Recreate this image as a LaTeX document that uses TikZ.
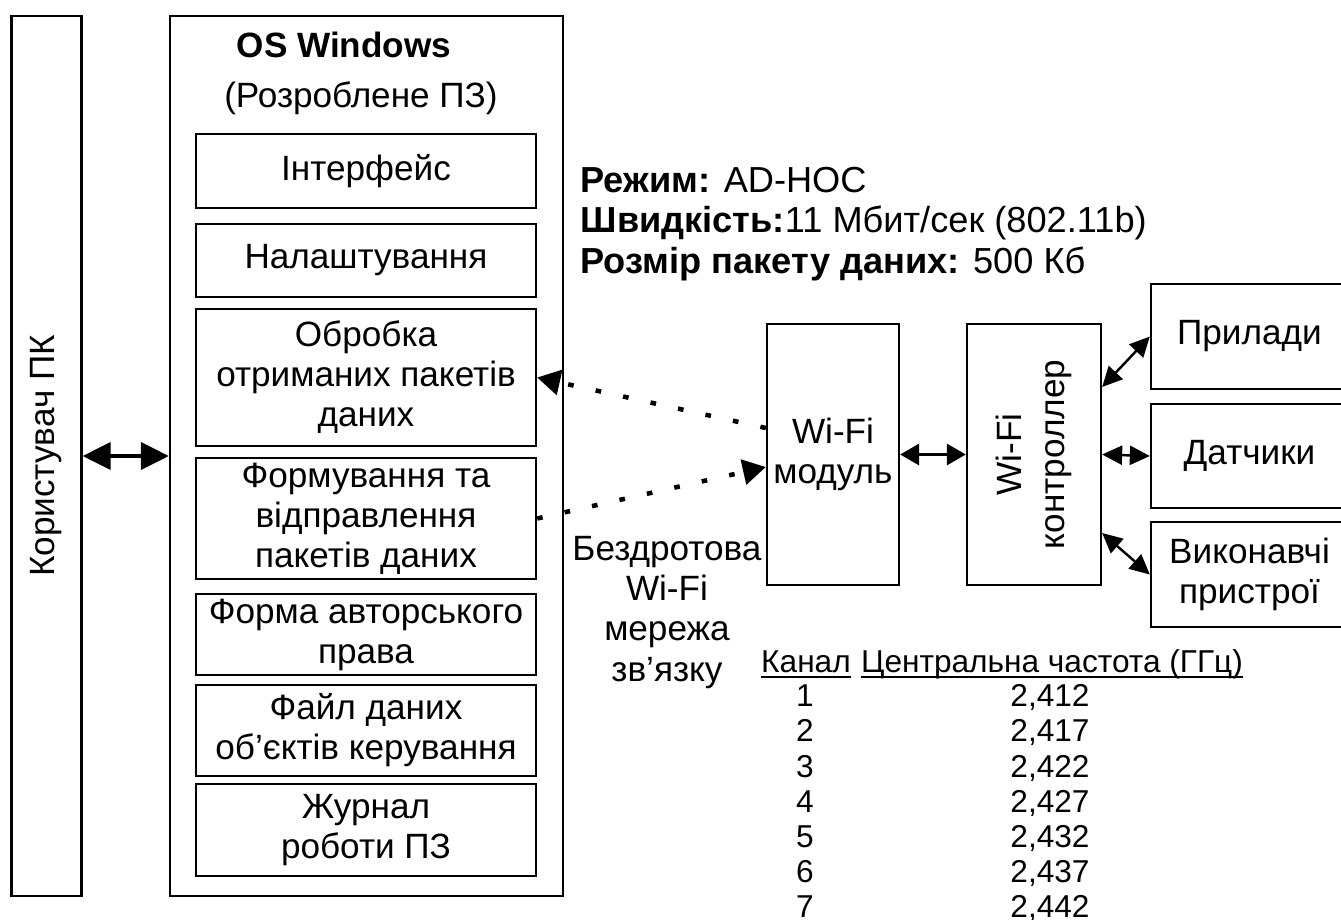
\documentclass[tikz,border=0pt]{standalone}
\usepackage{fontspec}
\setmainfont{Liberation Sans}
\usetikzlibrary{arrows.meta}
\newcommand{\ulined}[1]{\underline{\raisebox{0pt}[\height][0pt]{#1}}}

\begin{document}
\begin{tikzpicture}[
    every node/.style={inner sep=0pt, align=center, font=\fontsize{10}{11.4}\selectfont},
    panel/.style={draw, line width=0.65pt},
    block/.style={draw, line width=0.65pt, minimum width=3.4cm},
    device/.style={draw, line width=0.65pt, minimum width=1.97cm},
    info/.style={align=left, font=\fontsize{10.3}{11.6}\selectfont},
    tab/.style={font=\fontsize{9}{10}\selectfont},
    link/.style={{Triangle[length=1.9mm,width=2.1mm]}-{Triangle[length=1.9mm,width=2.1mm]}, line width=0.9pt},
    biglink/.style={{Triangle[length=2.8mm,width=2.7mm]}-{Triangle[length=2.8mm,width=2.7mm]}, line width=1.1pt},
    thinlink/.style={{Triangle[length=2mm,width=1.9mm]}-{Triangle[length=2mm,width=1.9mm]}, line width=0.7pt},
    radio/.style={-{Triangle[length=2.3mm,width=2.5mm]}, line width=1.3pt, dash pattern=on 1.6pt off 6.4pt}
]
\useasboundingbox (0,0) rectangle (13.41,-9.20);

% PC side
\node[panel, rotate=90, minimum width=8.8cm, minimum height=0.7cm] (user) at (0.465,-4.56) {Користувач ПК};
\node[panel, minimum width=3.93cm, minimum height=8.8cm] (os) at (3.665,-4.56) {};
\node[font=\fontsize{10}{12}\selectfont\bfseries] (ostitle) at (3.44,-0.45) {OS Windows};
\node (ossub) at (3.61,-0.98) {(Розроблене ПЗ)};

\node[block, minimum height=0.74cm] (interf) at (3.66,-1.71) {Інтерфейс};
\node[block, minimum height=0.73cm] (settings) at (3.66,-2.605) {Налаштування};
\node[block, minimum height=1.37cm] (obrobka) at (3.66,-3.775) {Обробка\\отриманих пакетів\\даних};
\node[block, minimum height=1.21cm] (formuv) at (3.66,-5.185) {Формування та\\відправлення\\пакетів даних};
\node[block, minimum height=0.81cm] (copyr) at (3.66,-6.345) {Форма авторського\\права};
\node[block, minimum height=0.91cm] (datafile) at (3.66,-7.305) {Файл даних\\об’єктів керування};
\node[block, minimum height=0.92cm] (journal) at (3.66,-8.30) {Журнал\\роботи ПЗ};

\draw[biglink] (user) -- (os);

% network parameters
\node[info, anchor=west] (params) at (5.80,-2.24) {\textbf{Режим:} AD-HOC\\\textbf{Швидкість:}11 Мбит/сек (802.11b)\\\textbf{Розмір пакету даних:} 500 Кб};
\node (net) at (6.67,-6.125) {Бездротова\\Wi-Fi\\мережа\\зв’язку};

% hardware side
\node[panel, minimum width=1.32cm, minimum height=2.61cm] (wifimod) at (8.33,-4.545) {Wi-Fi\\модуль};
\node[panel, rotate=90, minimum width=2.61cm, minimum height=1.34cm, font=\fontsize{10}{12.2}\selectfont] (ctrl) at (10.34,-4.545) {Wi-Fi\\контроллер};
\node[device, minimum height=1.05cm] (prylady) at (12.495,-3.365) {Прилади};
\node[device, minimum height=1.04cm] (datch) at (12.495,-4.56) {Датчики};
\node[device, minimum height=1.05cm] (vykon) at (12.495,-5.745) {Виконавчі\\пристрої};

\draw[radio] ([yshift=2.65mm]wifimod.west) -- (obrobka.east);
\draw[radio] (formuv.east) -- ([yshift=-1.25mm]wifimod.west);
\draw[link] (wifimod) -- (ctrl);
\draw[thinlink] ([yshift=6.75mm]ctrl.south) -- (prylady.west);
\draw[thinlink] (ctrl.south) -- (datch.west);
\draw[thinlink] ([yshift=-7.85mm]ctrl.south) -- (vykon.west);

% channel table
\node[tab, anchor=base] (chhead) at (8.06,-6.72) {\ulined{Канал}};
\node[tab, anchor=base] (frhead) at (10.52,-6.72) {\ulined{Центральна частота (ГГц)}};
\foreach \fr [count=\ch] in {412,417,422,427,432,437,442} {
  \node[tab, anchor=base] (ch\ch) at (8.05,{-6.715-0.352*\ch}) {\ch};
  \node[tab, anchor=base] (fr\ch) at (10.50,{-6.715-0.352*\ch}) {2,\fr};
}
\end{tikzpicture}
\end{document}
